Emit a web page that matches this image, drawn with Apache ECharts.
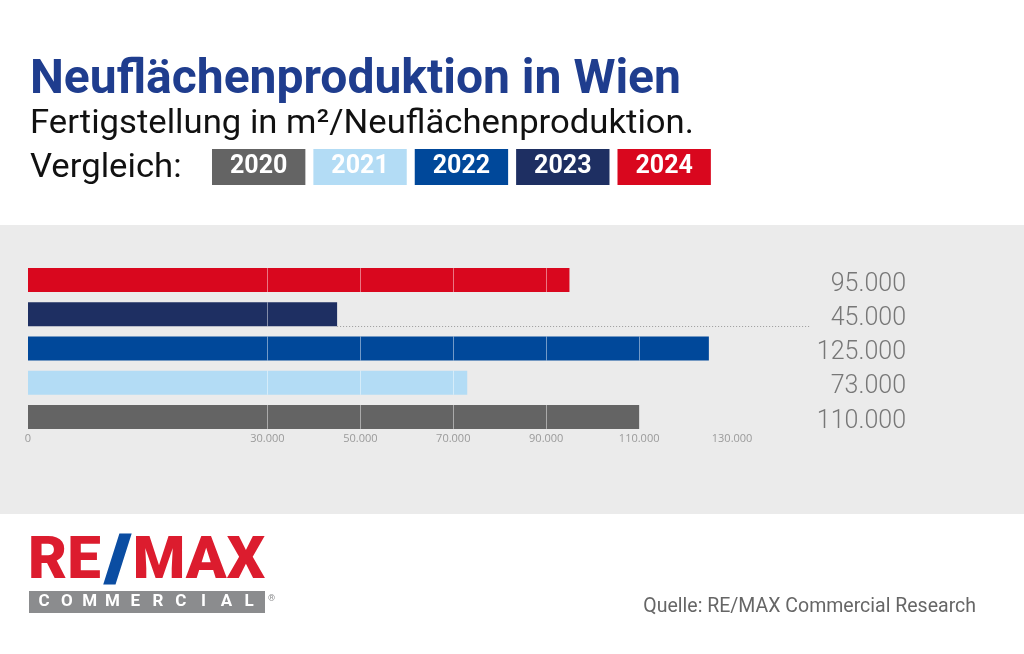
<!DOCTYPE html>
<html>
<head>
<meta charset="utf-8">
<script src="https://cdn.jsdelivr.net/npm/echarts@6/dist/echarts.min.js"></script>
<style>
html,body{margin:0;padding:0;background:#fff;}
#chart{width:1024px;height:654px;}
</style>
</head>
<body>
<div id="chart"></div>
<script>
// ---- data ----
const categories = ['2020', '2021', '2022', '2023', '2024'];
const values = [110000, 73000, 125000, 45000, 95000];
const colors = ['#646464', '#b3dcf5', '#00489a', '#1e2f62', '#d9071e'];
const tickLabels = [0, 30000, 50000, 70000, 90000, 110000, 130000];
const gridTicks = [30000, 50000, 70000, 90000, 110000];
const leaderRows = ['2023'];
const barOrigin = -21520;   // where the bars start on the reference's axis (labelled "0")
const axisEnd = 146980;

const fmt = v => String(v).replace(/\B(?=(\d{3})+(?!\d))/g, '.');

const chart = echarts.init(document.getElementById('chart'), null, {renderer: 'canvas'});

const BAR_H = 24;

// year series: one bar each, drawn from the axis origin to its value
const yearSeries = categories.map((c, i) => ({
  name: c,
  type: 'custom',
  itemStyle: {color: colors[i]},
  encode: {x: 0, y: 1},
  data: [[values[i], i]],
  z: 2,
  renderItem: function (params, api) {
    const row = api.value(1);
    const end = api.coord([api.value(0), row]);
    const start = api.coord([barOrigin, row]);
    return {
      type: 'rect',
      shape: {x: start[0], y: end[1] - BAR_H / 2, width: end[0] - start[0], height: BAR_H},
      style: {fill: colors[i]}
    };
  }
}));

// overlay lines: grid lines drawn on the bars, and the dotted leader
const overlayItems = [];
categories.forEach((c, i) => {
  gridTicks.forEach(t => { if (t < values[i]) overlayItems.push({x: t, row: i, kind: 'grid'}); });
  if (leaderRows.includes(c)) overlayItems.push({x: values[i], row: i, kind: 'leader'});
});

const overlaySeries = {
  name: 'overlay',
  type: 'custom',
  z: 5,
  silent: true,
  data: overlayItems.map(d => [d.x, d.row]),
  renderItem: function (params, api) {
    const d = overlayItems[params.dataIndex];
    const p = api.coord([d.x, d.row]);
    const half = BAR_H / 2;
    if (d.kind === 'grid') {
      return {type: 'line', shape: {x1: Math.round(p[0]) + 0.5, y1: p[1] - half, x2: Math.round(p[0]) + 0.5, y2: p[1] + half},
        style: {stroke: 'rgba(255,255,255,0.45)', lineWidth: 1}};
    }
    const cs = params.coordSys;
    return {type: 'line', shape: {x1: p[0], y1: Math.round(p[1] + half) + 0.5, x2: cs.x + cs.width, y2: Math.round(p[1] + half) + 0.5},
      style: {stroke: '#9a9a9a', lineWidth: 1, lineDash: [1, 2]}};
  }
};

// logo letters
const commercial = 'COMMERCIAL'.split('');
const logoLetters = commercial.map((ch, k) => ({
  type: 'text', x: 44 + k * 22.8, y: 602, z: 11,
  style: {text: ch, fill: '#ffffff', font: 'bold 17px Roboto', textAlign: 'center', textVerticalAlign: 'middle'}
}));

const option = {
  backgroundColor: '#ffffff',
  animation: false,
  textStyle: {fontFamily: 'Roboto'},
  legend: {
    data: categories.map((c, i) => ({
      name: c,
      textStyle: {backgroundColor: colors[i]}
    })),
    left: 202, top: 144,
    itemWidth: 0, itemHeight: 0, itemGap: 3,
    icon: 'rect',
    selectedMode: false,
    textStyle: {
      color: '#ffffff', fontSize: 25, fontWeight: 'bold', fontFamily: 'Roboto',
      height: 36, lineHeight: 36, padding: [0, 18]
    }
  },
  grid: {left: 28, right: 213, top: 263, bottom: 220, containLabel: false},
  xAxis: {
    type: 'value',
    min: barOrigin, max: axisEnd,
    axisLine: {show: false},
    axisTick: {show: false},
    splitLine: {show: false},
    axisLabel: {
      customValues: tickLabels.map(v => v === 0 ? barOrigin : v),
      formatter: v => v === barOrigin ? '0' : fmt(v),
      color: '#9a9a9a', fontSize: 11, fontFamily: 'Open Sans', margin: -1
    }
  },
  yAxis: {
    type: 'category',
    position: 'right',
    data: categories,
    axisLine: {show: false},
    axisTick: {show: false},
    splitLine: {show: false},
    axisLabel: {
      formatter: (v, idx) => '{v|' + fmt(values[idx]) + '}',
      align: 'right', margin: 95,
      rich: {v: {padding: [9, 0, 0, 0], color: '#777777', fontSize: 25, fontWeight: 300, fontFamily: 'Roboto', align: 'right'}}
    }
  },
  graphic: [
    {type: 'rect', shape: {x: 0, y: 225, width: 1024, height: 289}, style: {fill: '#ebebeb'}, z: -10},
    {type: 'text', x: 30, y: 81, style: {text: 'Neuflächenproduktion in Wien', fill: '#1f3d8e', font: 'bold 48px Roboto', textVerticalAlign: 'middle'}},
    {type: 'text', x: 30, y: 124, scaleX: 1.02, style: {text: 'Fertigstellung in m²/Neuflächenproduktion.', fill: '#111111', font: '34px Roboto', textVerticalAlign: 'middle'}},
    {type: 'text', x: 30, y: 168, scaleX: 1.02, style: {text: 'Vergleich:', fill: '#111111', font: '34px Roboto', textVerticalAlign: 'middle'}},
    // logo
    {type: 'text', x: 28, y: 563, style: {text: 'RE', fill: '#dc1c2e', font: '900 60px Roboto', textVerticalAlign: 'middle'}},
    {type: 'text', x: 118, y: 563, style: {text: '/', fill: '#0b4da2', stroke: '#0b4da2', lineWidth: 5, font: '900 60px Roboto', textAlign: 'center', textVerticalAlign: 'middle'}},
    {type: 'text', x: 265, y: 563, style: {text: 'MAX', fill: '#dc1c2e', font: '900 60px Roboto', textAlign: 'right', textVerticalAlign: 'middle'}},
    {type: 'rect', shape: {x: 29, y: 591, width: 236, height: 22}, style: {fill: '#8b8c8e'}, z: 10},
    ...logoLetters,
    {type: 'text', x: 268, y: 594, style: {text: '®', fill: '#8b8c8e', font: '9px Roboto'}},
    {type: 'text', x: 976, y: 607, style: {text: 'Quelle: RE/MAX Commercial Research', fill: '#666666', font: '19.5px Roboto', textAlign: 'right', textVerticalAlign: 'middle'}}
  ],
  series: [...yearSeries, overlaySeries]
};

chart.setOption(option);
</script>
</body>
</html>
